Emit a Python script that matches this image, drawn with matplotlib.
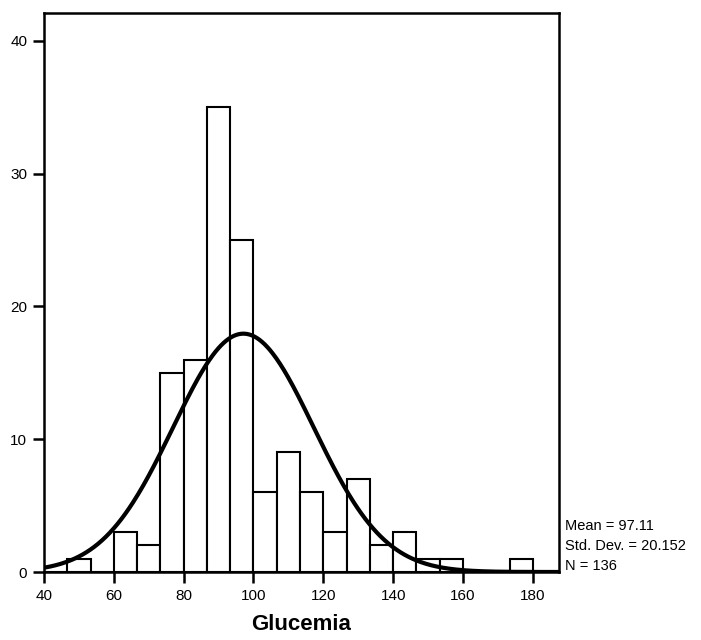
import numpy as np
import matplotlib.pyplot as plt

plt.rcParams['font.family'] = ['Liberation Sans', 'DejaVu Sans']

# histogram data (bin width 20/3)
bin_edges = [40 + k * 20 / 3 for k in range(22)]
counts = [0, 1, 0, 3, 2, 15, 16, 35, 25, 6, 9, 6, 3, 7, 2, 3, 1, 1, 0, 0, 1]
mean_val = 97.11
std_val = 20.152
n_obs = 136

fig = plt.figure(figsize=(7.01, 6.4), dpi=100)
ax = fig.add_axes([0.0628, 0.10625, 0.7346, 0.8735])

widths = np.diff(bin_edges)
ax.bar(bin_edges[:-1], counts, width=widths, align='edge',
       facecolor='white', edgecolor='black', linewidth=1.5)

# normal curve scaled to counts
xs = np.linspace(40, 187.5, 400)
bw = bin_edges[1] - bin_edges[0]
ys = n_obs * bw / (std_val * np.sqrt(2 * np.pi)) * np.exp(-0.5 * ((xs - mean_val) / std_val) ** 2)
ax.plot(xs, ys, color='black', linewidth=3)

ax.set_xlim(40, 187.5)
ax.set_ylim(0, 42.1)
ax.set_xticks(range(40, 181, 20))
ax.set_yticks(range(0, 41, 10))
ax.tick_params(direction='out', length=8, width=1.8, labelsize=11, pad=4)
for s in ax.spines.values():
    s.set_linewidth(1.8)

ax.set_xlabel('Glucemia', fontsize=16, fontweight='bold', labelpad=8)

fig.text(0.806, 0.178, 'Mean = 97.11', fontsize=10.5, va='center')
fig.text(0.806, 0.147, 'Std. Dev. = 20.152', fontsize=10.5, va='center')
fig.text(0.806, 0.116, 'N = 136', fontsize=10.5, va='center')

fig.savefig('out.png', dpi=100)
